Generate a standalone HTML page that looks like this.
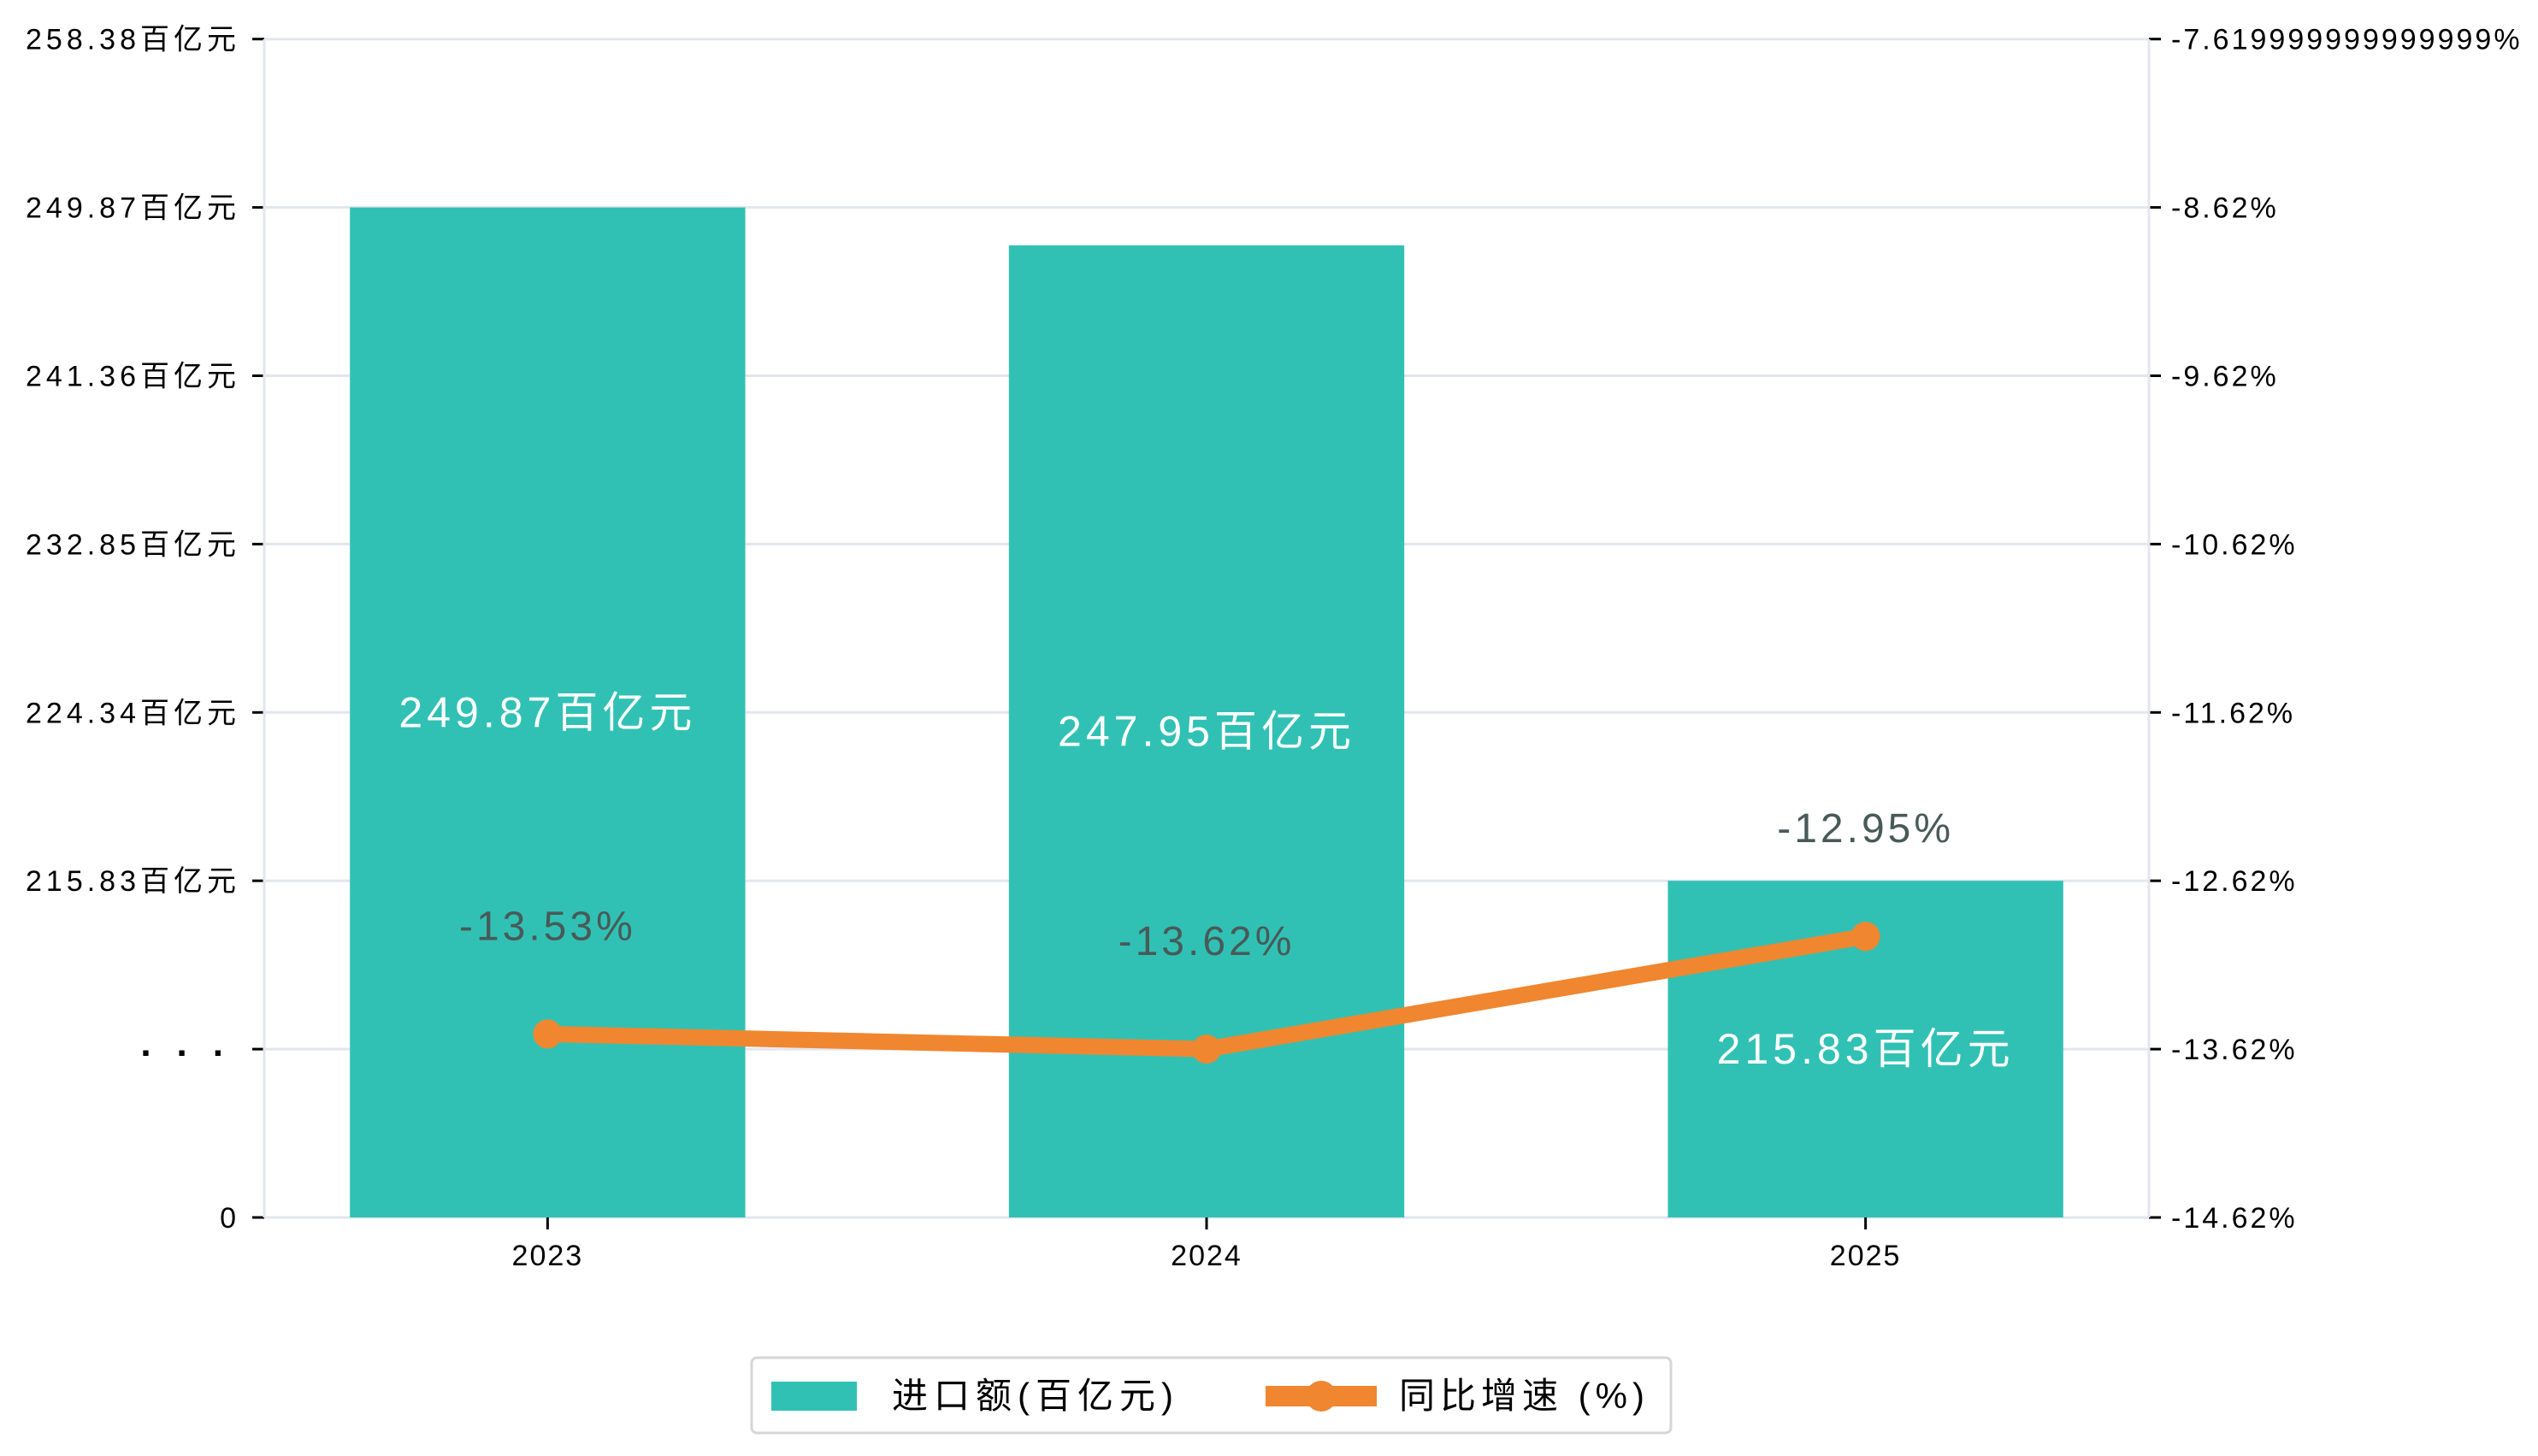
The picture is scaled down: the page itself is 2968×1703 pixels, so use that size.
<!DOCTYPE html>
<html><head><meta charset="utf-8">
<style>
html,body{margin:0;padding:0;background:#fff;}
svg{display:block;font-family:"Liberation Sans","Noto Sans CJK SC",sans-serif;}
</style></head>
<body>
<svg id="chart" width="2968" height="1703" viewBox="0 0 2968 1703" xmlns="http://www.w3.org/2000/svg">
<g id="grid"></g>
<g id="bars"></g>
<g id="axes"></g>
<g id="line"></g>
<g id="labels"></g>
<g>
  <rect x="879" y="1588" width="1075" height="88" rx="6" fill="#fff" stroke="#d6d6d6" stroke-width="3"/>
  <rect x="902" y="1616" width="100" height="34" fill="#31c1b4"/>
  <text x="1043" y="1647" font-size="42" letter-spacing="7" fill="#000">进口额(百亿元)</text>
  <line x1="1480" y1="1633" x2="1610" y2="1633" stroke="#f0862f" stroke-width="24"/>
  <circle cx="1545" cy="1633" r="18" fill="#f0862f"/>
  <text x="1636" y="1647" font-size="42" letter-spacing="6" fill="#000">同比增速 (%)</text>
</g>
</svg>
<script>
const categories = ['2023','2024','2025'];
const importValues = [249.87, 247.95, 215.83];
const growthValues = [-13.53, -13.62, -12.95];
const leftTickLabels = ['258.38百亿元','249.87百亿元','241.36百亿元','232.85百亿元','224.34百亿元','215.83百亿元','...','0'];
const rightTickValues = [-7.62,-8.62,-9.62,-10.62,-11.62,-12.62,-13.62,-14.62];
const rightTickLabels = ['-7.619999999999999%','-8.62%','-9.62%','-10.62%','-11.62%','-12.62%','-13.62%','-14.62%'];

const NS='http://www.w3.org/2000/svg';
const X0=309, X1=2513, Y0=45.7, Y1=1424;
const leftMin=198.81, leftMax=258.38;
const rightMin=-14.62, rightMax=-7.62;
function xPos(i){return X0+(i+0.43)/2.86*(X1-X0);}
function yLeft(v){return Y1-(v-leftMin)/(leftMax-leftMin)*(Y1-Y0);}
function yRight(v){return Y1-(v-rightMin)/(rightMax-rightMin)*(Y1-Y0);}
function tickY(i,n){return Y0+i*(Y1-Y0)/(n-1);}
function mk(tag,attrs,parent){const e=document.createElementNS(NS,tag);for(const k in attrs)e.setAttribute(k,attrs[k]);parent.appendChild(e);return e;}

const grid=document.getElementById('grid'), axes=document.getElementById('axes'), bars=document.getElementById('bars'), line=document.getElementById('line'), labels=document.getElementById('labels');

leftTickLabels.forEach((t,i)=>{
  const y=tickY(i,leftTickLabels.length);
  const g=mk('line',{x1:X0,x2:X1,y1:y,y2:y,stroke:'#e3e5f0','stroke-width':3},grid);
  
  
  const tk=mk('line',{x1:X0-14,x2:X0,y1:y,y2:y,stroke:'#000','stroke-width':3},axes);
  
  
  const tx=mk('text',{x:X0-28,y:y+12,'text-anchor':'end','font-size':34,'letter-spacing':5,fill:'#000'},axes);
  tx.textContent = t;
  if(t==='...'){tx.setAttribute('font-size',44);tx.setAttribute('font-weight','bold');tx.setAttribute('letter-spacing',30);tx.setAttribute('x',X0-18);tx.setAttribute('y',y+8);}
  
  
});
rightTickValues.forEach((v,i)=>{
  const y=yRight(v);
  const tk=mk('line',{x1:X1,x2:X1+14,y1:y,y2:y,stroke:'#000','stroke-width':3},axes);
  
  
  const tx=mk('text',{x:X1+26,y:y+12,'font-size':34,'letter-spacing':3,fill:'#000'},axes);
  tx.textContent=rightTickLabels[i];
  
  
});
[X0,X1].forEach(x=>{
  const a=mk('line',{x1:x,x2:x,y1:Y0,y2:Y1,stroke:'#e3e5f0','stroke-width':3},axes);
  
  
});
const bw=0.6/2.86*(X1-X0);
categories.forEach((c,i)=>{
  const cx=xPos(i), yt=yLeft(importValues[i]);
  const b=mk('rect',{x:cx-bw/2,y:yt,width:bw,height:Y1-yt,fill:'#31c1b4'},bars);
  
  
  const tk=mk('line',{x1:cx,x2:cx,y1:Y1,y2:Y1+14,stroke:'#000','stroke-width':3},axes);
  
  
  const tx=mk('text',{x:cx,y:Y1+56,'text-anchor':'middle','font-size':34,'letter-spacing':2,fill:'#000'},axes);
  tx.textContent=c;
  
  
  const bl=mk('text',{x:cx,y:(yt+Y1)/2+17,'text-anchor':'middle','font-size':50,'letter-spacing':5,fill:'#fff'},labels);
  bl.textContent=importValues[i].toFixed(2)+'百亿元';
  
  
});
const pts=growthValues.map((v,i)=>xPos(i)+','+yRight(v)).join(' ');
const pl=mk('polyline',{points:pts,fill:'none',stroke:'#f0862f','stroke-width':19,'stroke-linejoin':'round'},line);


growthValues.forEach((v,i)=>{
  const c=mk('circle',{cx:xPos(i),cy:yRight(v),r:17,fill:'#f0862f'},line);
  
  
  const t=mk('text',{x:xPos(i),y:yRight(v)-110,'text-anchor':'middle','font-size':48,'letter-spacing':4,fill:'#485a58'},labels);
  t.textContent=v.toFixed(2)+'%';
  
  
});
</script>
</body></html>
